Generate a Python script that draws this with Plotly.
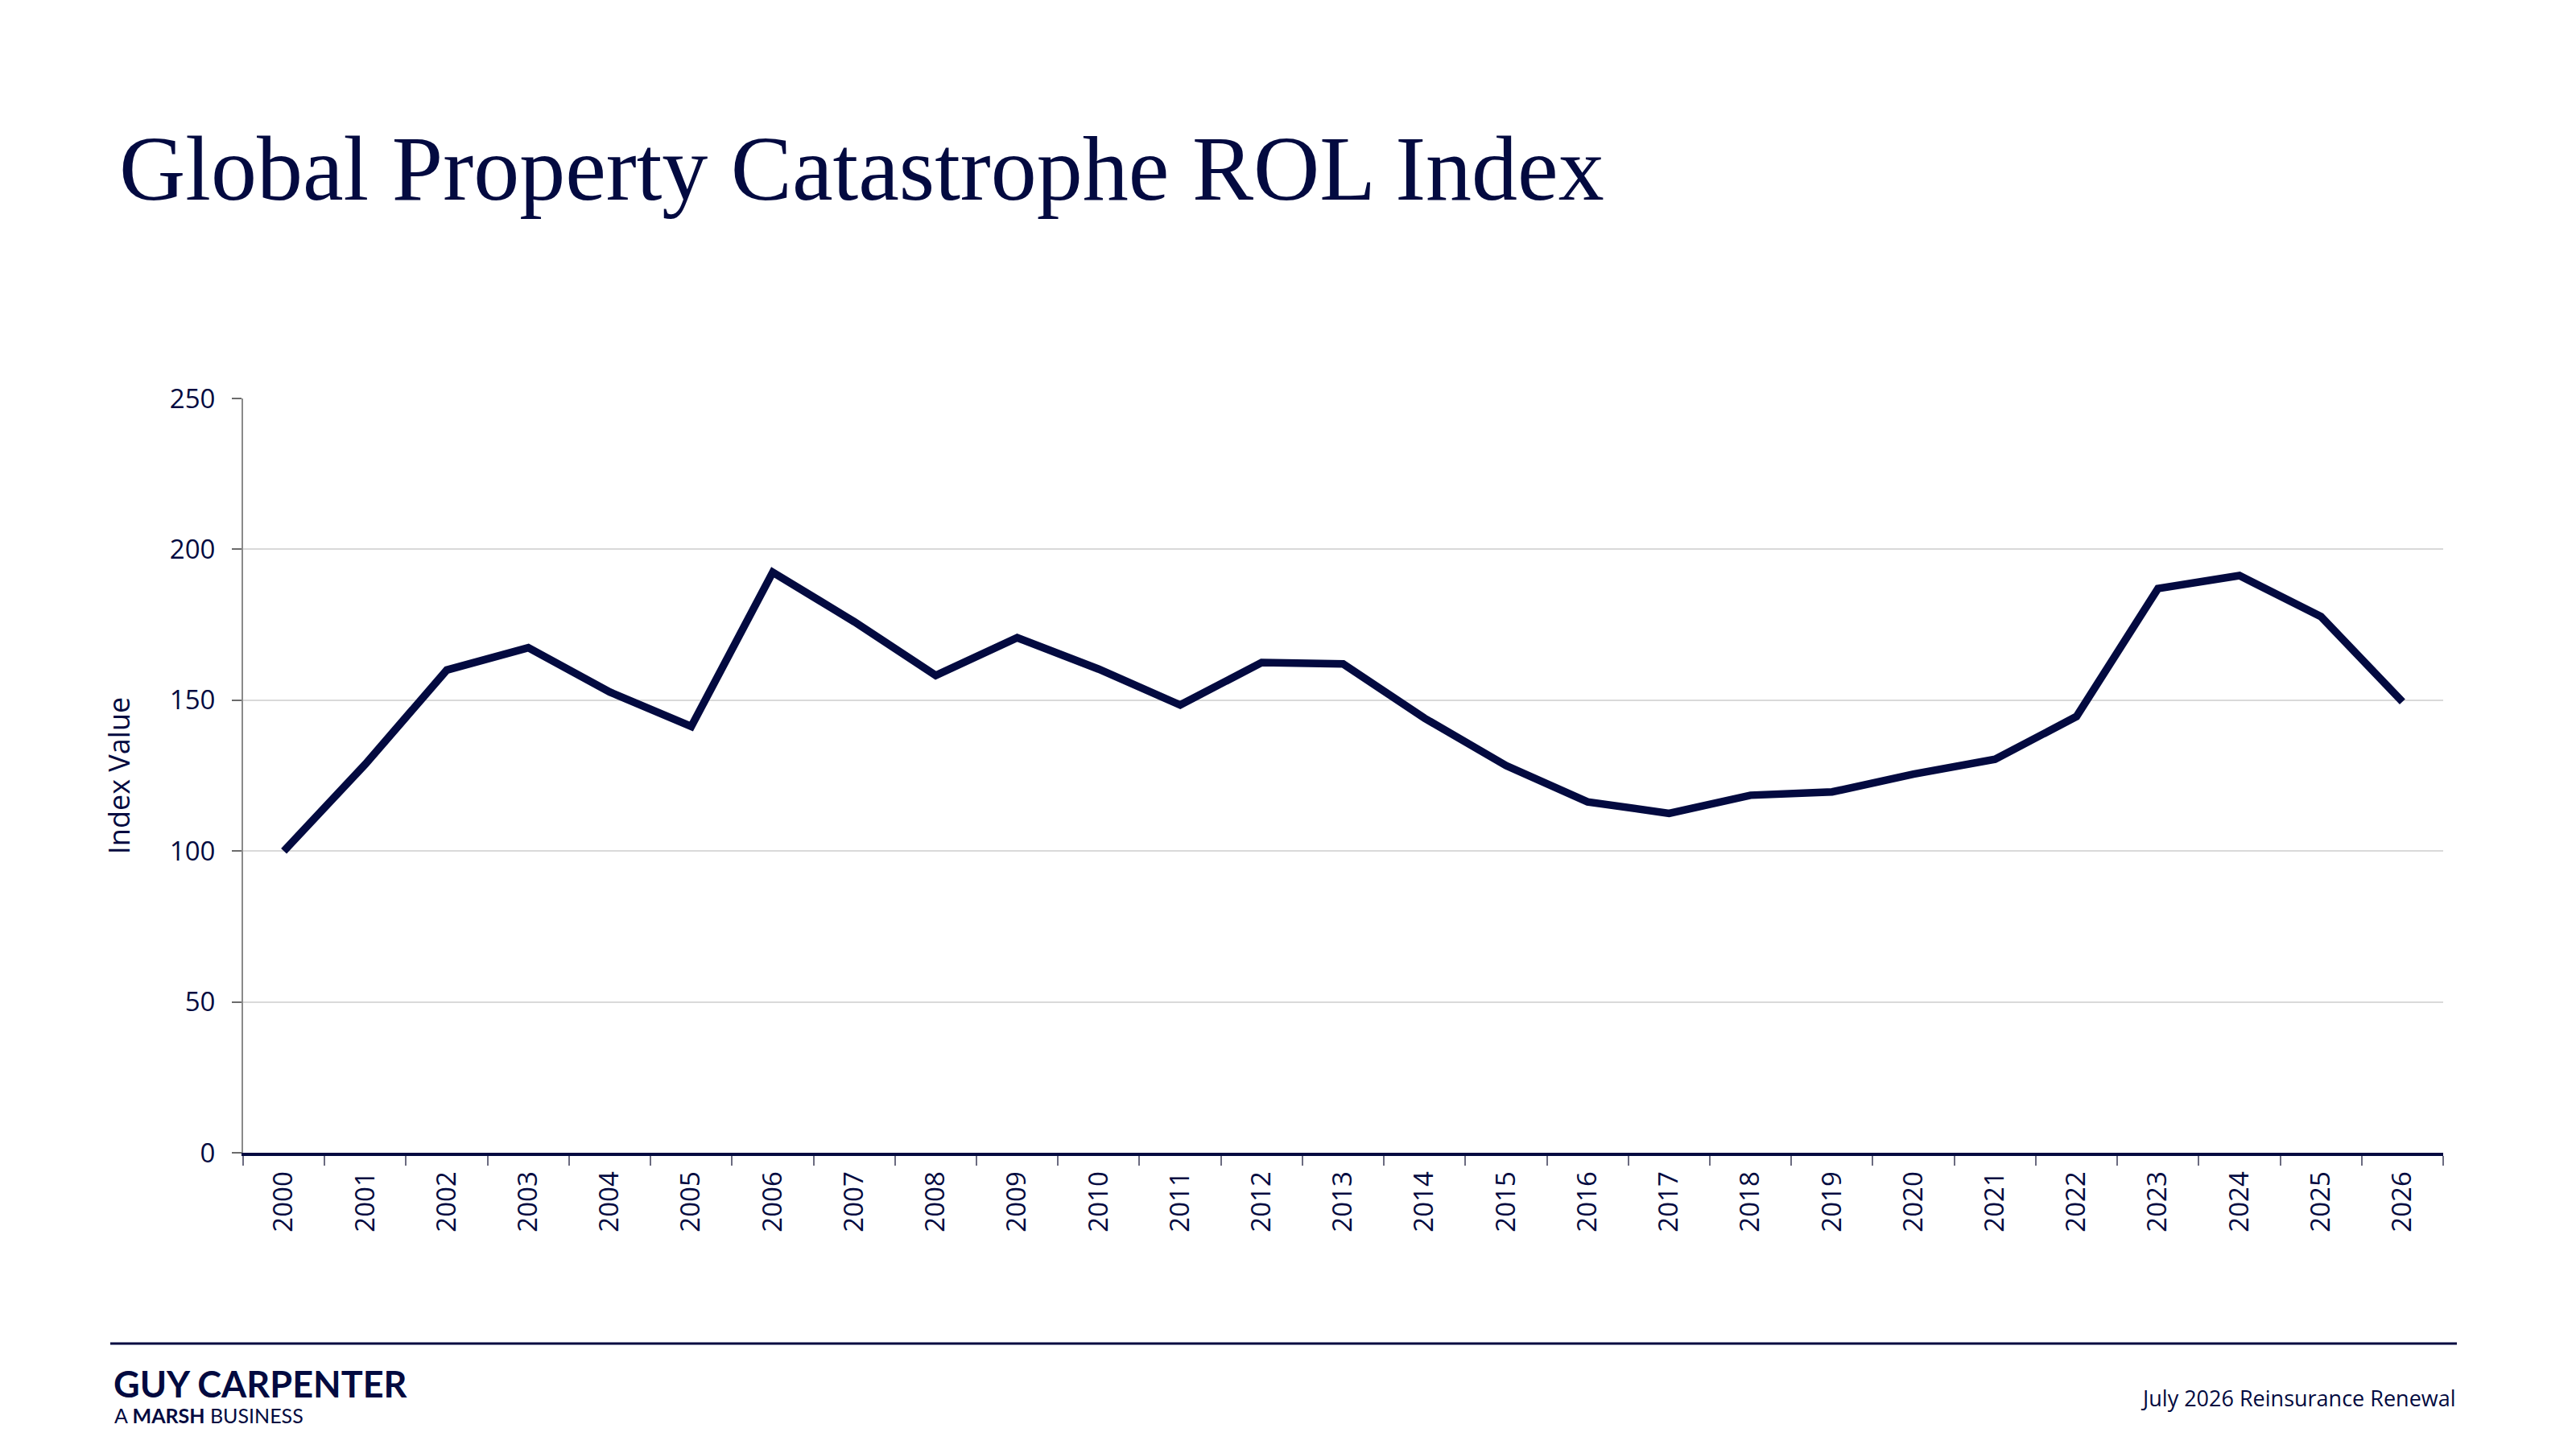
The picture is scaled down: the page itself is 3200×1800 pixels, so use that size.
import plotly.graph_objects as go

years = [str(y) for y in range(2000, 2027)]
index_values = [100, 128.8, 160, 167.4, 152.7, 141.3, 192.4, 176, 158.2, 170.7,
                160.3, 148.4, 162.5, 162, 144, 128.3, 116.3, 112.5, 118.5, 119.6,
                125.5, 130.4, 144.6, 187, 191.3, 177.7, 149.5]
y_ticks = [0, 50, 100, 150, 200, 250]

title_text = "Global Property Catastrophe ROL Index"
y_title = "Index Value"
footer_brand = "GUY CARPENTER"
footer_sub = "A <b>MARSH</b> BUSINESS"
footer_right = "July 2026 Reinsurance Renewal"

NAVY = "#030a40"
W, H = 3200, 1800
ML, MR, MT, MB = 302, 165, 495, 368
PW, PH = W - ML - MR, H - MT - MB


def px(x):
    return (x - ML) / PW


def py(y):
    return (H - MB - y) / PH


fig = go.Figure()
fig.add_trace(go.Scatter(
    x=years, y=index_values, mode="lines",
    line=dict(color=NAVY, width=9.5),
    hoverinfo="x+y", showlegend=False,
))

fig.update_layout(
    width=W, height=H,
    margin=dict(l=ML, r=MR, t=MT, b=MB),
    paper_bgcolor="white", plot_bgcolor="white",
    font=dict(family="Open Sans", color=NAVY, size=33),
    title=dict(
        text=title_text, xref="container", yref="container",
        x=148 / W, xanchor="left", y=1 - 168 / H, yanchor="top",
        font=dict(family="Liberation Serif", size=114, color=NAVY),
    ),
    xaxis=dict(
        type="category", range=[-0.5, len(years) - 0.5],
        tickson="boundaries", ticks="outside", ticklen=12, tickwidth=2,
        tickcolor="#6b6b80", tickangle=-90, ticklabelstandoff=6,
        showline=True, linecolor=NAVY, linewidth=4,
        showgrid=False, zeroline=False,
        tickfont=dict(size=33, color=NAVY),
    ),
    yaxis=dict(
        range=[0, 250], tickvals=y_ticks, ticks="outside", ticklen=12,
        tickwidth=2, tickcolor="#6b6b6b", ticklabelstandoff=14,
        showline=True, linecolor="#8a8a8a", linewidth=2,
        showgrid=True, gridcolor="#d9d9d9", gridwidth=2, zeroline=False,
        tickfont=dict(size=33, color=NAVY),
        title=dict(text=y_title, standoff=38, font=dict(size=36, color=NAVY)),
    ),
    shapes=[dict(
        type="line", xref="paper", yref="paper",
        x0=px(137), x1=px(3052), y0=py(1669), y1=py(1669),
        line=dict(color=NAVY, width=3),
    )],
    annotations=[
        dict(text=footer_brand, xref="paper", yref="paper", x=px(139), y=py(1719),
             xanchor="left", yanchor="middle", showarrow=False,
             font=dict(family="Lato", size=45, color=NAVY, weight="bold")),
        dict(text=footer_sub, xref="paper", yref="paper", x=px(140), y=py(1758),
             xanchor="left", yanchor="middle", showarrow=False,
             font=dict(family="Lato", size=25, color=NAVY)),
        dict(text=footer_right, xref="paper", yref="paper", x=px(3053), y=py(1736),
             xanchor="right", yanchor="middle", showarrow=False,
             font=dict(family="Open Sans", size=27, color=NAVY)),
    ],
)

fig.write_html("out.html")
